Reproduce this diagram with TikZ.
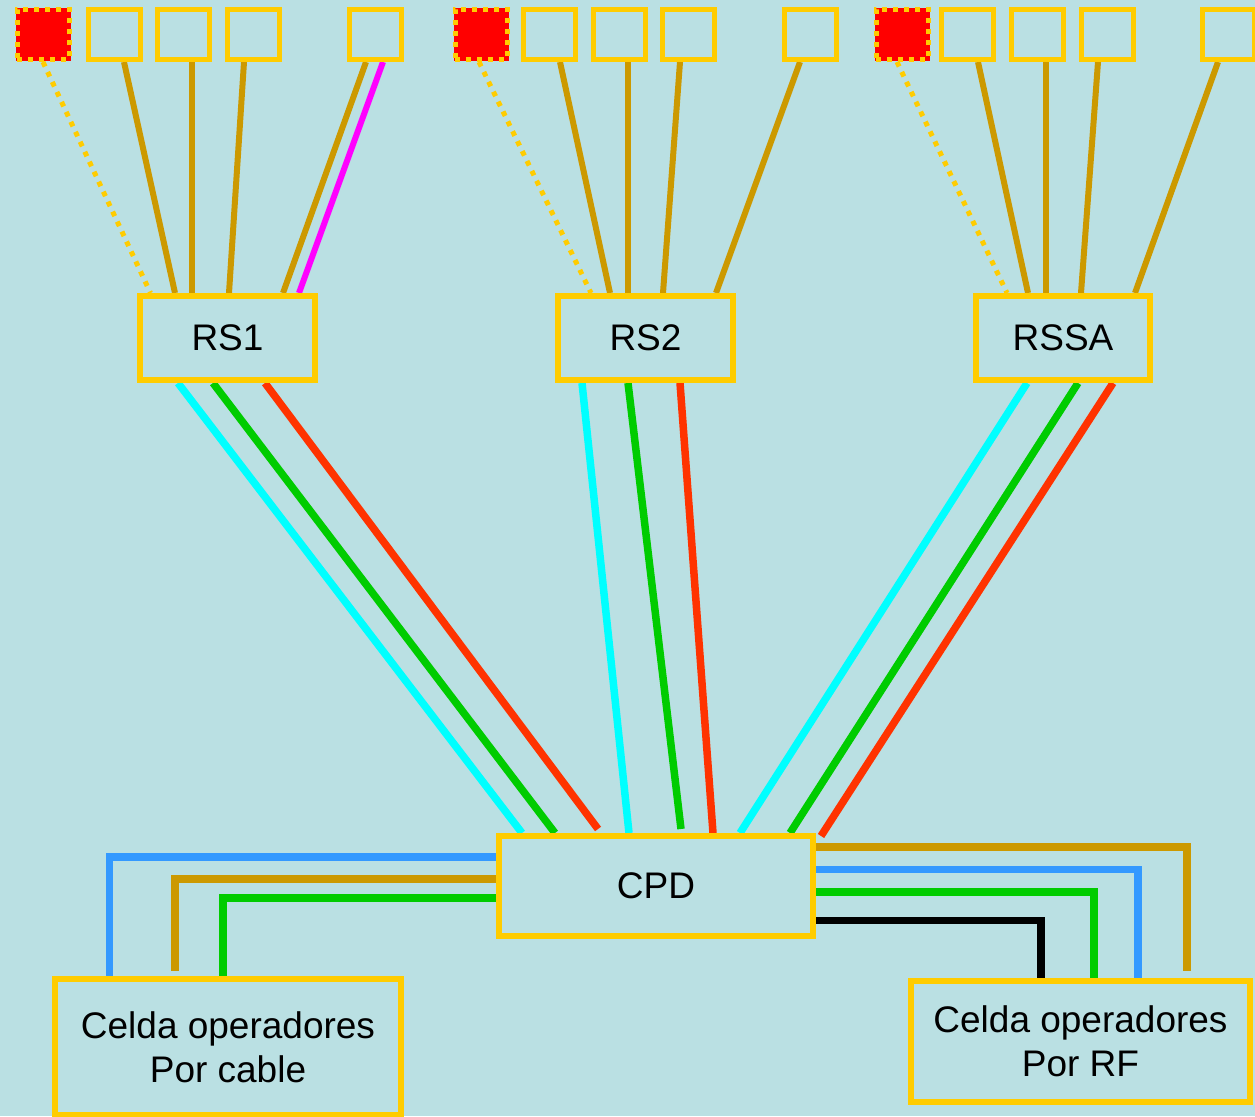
\documentclass[tikz,border=0pt]{standalone}
\usepackage{fontspec}
\setmainfont{Liberation Sans}
\definecolor{bgc}{RGB}{186,224,227}
\definecolor{boxy}{RGB}{255,204,0}
\definecolor{brn}{RGB}{204,153,0}
\definecolor{cyn}{RGB}{0,255,255}
\definecolor{grn}{RGB}{0,204,0}
\definecolor{rdl}{RGB}{255,51,0}
\definecolor{blu}{RGB}{51,153,255}
\definecolor{mag}{RGB}{255,0,255}
\pgfdeclarelayer{back}
\pgfdeclarelayer{lines}
\pgfsetlayers{back,lines,main}
\begin{document}
\begin{tikzpicture}[x=1pt,y=-1pt,
  box/.style={draw=boxy, line width=6pt, fill=bgc, inner sep=0pt,
    font=\fontsize{37}{44}\selectfont, align=center},
  sq/.style={draw=boxy, line width=5pt, minimum width=52pt, minimum height=50pt, inner sep=0pt},
  redsq/.style={sq, fill=red, dash pattern=on 5pt off 6pt,
    preaction={draw=red, line width=3pt, solid}},
  dotln/.style={draw=boxy, line width=5pt, dash pattern=on 5pt off 6pt},
  brl/.style={draw=brn, line width=6pt},
  mgl/.style={draw=mag, line width=6pt},
  cyl/.style={draw=cyn, line width=7.5pt},
  gnl/.style={draw=grn, line width=7.5pt},
  rdw/.style={draw=rdl, line width=7.5pt},
  bll/.style={draw=blu, line width=7.5pt},
  bkl/.style={draw=black, line width=7.5pt},
  brb/.style={draw=brn, line width=7.5pt}]
\useasboundingbox (0,0) rectangle (1255,1116);
\begin{pgfonlayer}{back}
\fill[bgc] (0,0) rectangle (1255,1116);
\end{pgfonlayer}

% top squares
\node[redsq] (a0) at (43,34.5) {};
\node[sq] (a1) at (114.5,34.5) {};
\node[sq] (a2) at (183.5,34.5) {};
\node[sq] (a3) at (253.5,34.5) {};
\node[sq] (a4) at (375.5,34.5) {};
\node[redsq] (b0) at (481,34.5) {};
\node[sq] (b1) at (549.5,34.5) {};
\node[sq] (b2) at (619,34.5) {};
\node[sq] (b3) at (688.5,34.5) {};
\node[sq] (b4) at (810.5,34.5) {};
\node[redsq] (c0) at (902,34.5) {};
\node[sq] (c1) at (967,34.5) {};
\node[sq] (c2) at (1037,34.5) {};
\node[sq] (c3) at (1107,34.5) {};
\node[sq] (c4) at (1228.5,34.5) {};

% main boxes
\node[box, minimum width=175pt, minimum height=84pt] (rs1) at (227.5,338) {RS1};
\node[box, minimum width=175pt, minimum height=84pt] (rs2) at (645.5,338) {RS2};
\node[box, minimum width=174pt, minimum height=84pt] (rssa) at (1063,338) {RSSA};
\node[box, minimum width=314pt, minimum height=100pt] (cpd) at (656,886) {CPD};
\node[box, minimum width=346pt, minimum height=136pt] (cable) at (228,1047) {Celda operadores\\Por cable};
\node[box, minimum width=339pt, minimum height=121pt] (rf) at (1080.5,1041.5) {Celda operadores\\Por RF};

\begin{pgfonlayer}{lines}
% group 1
\draw[dotln] (a0.south) -- ([xshift=-77pt]rs1.north);
\draw[brl] ([xshift=9.5pt]a1.south) -- ([xshift=-52.5pt]rs1.north);
\draw[brl] ([xshift=8.5pt]a2.south) -- ([xshift=-35.5pt]rs1.north);
\draw[brl] ([xshift=-9.5pt]a3.south) -- ([xshift=1.5pt]rs1.north);
\draw[brl] ([xshift=-9.5pt]a4.south) -- ([xshift=55.5pt]rs1.north);
\draw[mgl] ([xshift=7.5pt]a4.south) -- ([xshift=71.5pt]rs1.north);
% group 2
\draw[dotln] ([xshift=-2pt]b0.south) -- ([xshift=-54.5pt]rs2.north);
\draw[brl] ([xshift=10.5pt]b1.south) -- ([xshift=-35.5pt]rs2.north);
\draw[brl] ([xshift=9pt]b2.south) -- ([xshift=-17.5pt]rs2.north);
\draw[brl] ([xshift=-8.5pt]b3.south) -- ([xshift=17.5pt]rs2.north);
\draw[brl] ([xshift=-10.5pt]b4.south) -- ([xshift=70.5pt]rs2.north);
% group 3
\draw[dotln] ([xshift=-5pt]c0.south) -- ([xshift=-56pt]rssa.north);
\draw[brl] ([xshift=11pt]c1.south) -- ([xshift=-35pt]rssa.north);
\draw[brl] ([xshift=9pt]c2.south) -- ([xshift=-17pt]rssa.north);
\draw[brl] ([xshift=-9pt]c3.south) -- ([xshift=18pt]rssa.north);
\draw[brl] ([xshift=-10.5pt]c4.south) -- ([xshift=72pt]rssa.north);
% RS to CPD
\draw[cyl] ([xshift=-49.5pt]rs1.south) -- ([xshift=-134pt]cpd.north);
\draw[gnl] ([xshift=-14.5pt]rs1.south) -- ([xshift=-101pt]cpd.north);
\draw[rdw] ([xshift=37.5pt]rs1.south) -- ([xshift=-58pt,yshift=4pt]cpd.north);
\draw[cyl] ([xshift=-63.5pt]rs2.south) -- ([xshift=-27pt]cpd.north);
\draw[gnl] ([xshift=-17.5pt]rs2.south) -- ([xshift=25pt,yshift=4pt]cpd.north);
\draw[rdw] ([xshift=34.5pt]rs2.south) -- ([xshift=57pt]cpd.north);
\draw[cyl] ([xshift=-36pt]rssa.south) -- ([xshift=84pt]cpd.north);
\draw[gnl] ([xshift=15pt]rssa.south) -- ([xshift=134pt]cpd.north);
\draw[rdw] ([xshift=50pt]rssa.south) -- ([xshift=5pt,yshift=-3pt]cpd.north east);
% CPD to cable cell
\draw[bll] ([yshift=29pt]cpd.west) -| ([xshift=-118.5pt]cable.north);
\draw[brb] ([yshift=7pt]cpd.west) -| ([xshift=-53pt,yshift=5pt]cable.north);
\draw[gnl] ([yshift=-12pt]cpd.west) -| ([xshift=-5pt]cable.north);
% CPD to RF cell
\draw[brb] ([yshift=39pt]cpd.east) -| ([xshift=106.5pt,yshift=7pt]rf.north);
\draw[bll] ([yshift=16.5pt]cpd.east) -| ([xshift=57.5pt]rf.north);
\draw[gnl] ([yshift=-6pt]cpd.east) -| ([xshift=13.5pt]rf.north);
\draw[bkl] ([yshift=-34.5pt]cpd.east) -| ([xshift=-39.5pt]rf.north);
\end{pgfonlayer}
\end{tikzpicture}
\end{document}
